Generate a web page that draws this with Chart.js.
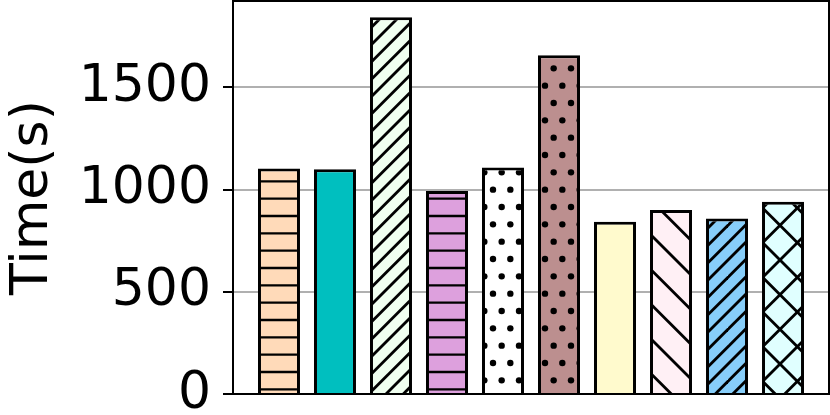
<!DOCTYPE html>
<html>
<head>
<meta charset="utf-8">
<script src="https://cdn.jsdelivr.net/npm/chart.js@4.4.0/dist/chart.umd.min.js"></script>
<style>
    html, body { margin: 0; padding: 0; background: #fff; }
    #wrap { width: 830px; height: 415px; }
</style>
</head>
<body>
<div id="wrap"><canvas id="myChart"></canvas></div>
<script>
const categories = ['1', '2', '3', '4', '5', '6', '7', '8', '9', '10'];
const times = [1103, 1100, 1843, 993, 1108, 1658, 843, 900, 859, 941];
const fillColors = ['#FFDAB9', '#00BFBF', '#F0FFF0', '#DDA0DD', '#FFFFFF',
                    '#BC8F8F', '#FFFACD', '#FFF0F5', '#87CEFA', '#E0FFFF'];
const hatches = ['--', '', '//', '--', '..', '..', '', '\\', '//', 'x'];
const yTicks = [0, 500, 1000, 1500];
const yMax = 1923;

// hatch tiles, 104px = 6 * 17.33px steps
function makeHatch(kind, bg) {
    const size = 104;
    const c = document.createElement('canvas');
    c.width = size;
    c.height = size;
    const g = c.getContext('2d');
    g.fillStyle = bg;
    g.fillRect(0, 0, size, size);
    g.strokeStyle = '#000';
    g.fillStyle = '#000';
    g.lineWidth = 2.8;
    const step = size / 6;

    if (kind === '--') {
        g.lineWidth = 2.4;
        for (let k = 0; k < 6; k++) {
            const y = 8 + k * step;
            g.beginPath();
            g.moveTo(0, y);
            g.lineTo(size, y);
            g.stroke();
        }
    }
    if (kind === '//' || kind === '/' || kind === 'x') {
        const s = kind === '//' ? step : step * 2;
        for (let cc = 0; cc <= 2 * size + 0.1; cc += s) {
            g.beginPath();
            g.moveTo(cc + 4, -4);
            g.lineTo(-4, cc + 4);
            g.stroke();
        }
    }
    if (kind === '\\' || kind === 'x') {
        const s = step * 2;
        for (let cc = -size; cc <= size + 0.1; cc += s) {
            g.beginPath();
            g.moveTo(cc - 4, -4);
            g.lineTo(cc + size + 4, size + 4);
            g.stroke();
        }
    }
    if (kind === '..') {
        for (let r = 0; r <= 6; r++) {
            for (let col = -1; col <= 7; col++) {
                const x = col * step + (r % 2 ? step / 2 : 0);
                const y = r * step;
                g.beginPath();
                g.arc(x, y, 3.2, 0, Math.PI * 2);
                g.fill();
            }
        }
    }
    const pattern = g.createPattern(c, 'repeat');
    if (kind === '..') pattern.setTransform(new DOMMatrix([1, 0, 0, 1, -1, -1]));
    return pattern;
}

const barFills = fillColors.map((col, i) => hatches[i] ? makeHatch(hatches[i], col) : col);

const framePlugin = {
    id: 'frame',
    afterDatasetsDraw(chart) {
        const a = chart.chartArea;
        const ctx = chart.ctx;
        ctx.save();
        ctx.strokeStyle = '#000';
        ctx.lineWidth = 2;
        ctx.strokeRect(a.left, a.top, a.right - a.left, a.bottom - a.top);
        ctx.restore();
    }
};

const ctx = document.getElementById('myChart');

const chart = new Chart(ctx, {
    type: 'bar',
    data: {
        datasets: [{
            label: 'Time(s)',
            data: times.map((v, i) => ({ x: i, y: v })),
            backgroundColor: barFills,
            borderColor: '#000',
            borderWidth: 3,
            barPercentage: 0.75,
            categoryPercentage: 1
        }]
    },
    plugins: [framePlugin],
    options: {
        responsive: true,
        maintainAspectRatio: false,
        animation: false,
        layout: {
            padding: { top: 1, right: 1, bottom: 21, left: 0 }
        },
        plugins: {
            legend: { display: false },
            tooltip: {
                callbacks: {
                    title: (items) => categories[items[0].dataIndex]
                }
            }
        },
        scales: {
            x: {
                type: 'linear',
                display: false,
                min: -0.821,
                max: 9.821,
                offset: false
            },
            y: {
                min: 0,
                max: yMax,
                afterBuildTicks: (scale) => {
                    scale.ticks = yTicks.map(v => ({ value: v }));
                },
                afterFit: (scale) => {
                    scale.width = 233;
                    scale.paddingTop = 0;
                    scale.paddingBottom = 0;
                },
                border: { display: false },
                grid: {
                    color: '#b0b0b0',
                    lineWidth: 2,
                    drawTicks: true,
                    tickLength: 10,
                    tickColor: '#000',
                    tickWidth: 2
                },
                ticks: {
                    color: '#000',
                    padding: 12,
                    callback: (v) => String(v),
                    font: { family: 'DejaVu Sans', size: 52 }
                },
                title: {
                    display: true,
                    text: 'Time(s)',
                    color: '#000',
                    padding: 2,
                    font: { family: 'DejaVu Sans', size: 52 }
                }
            }
        }
    }
});
</script>
</body>
</html>
